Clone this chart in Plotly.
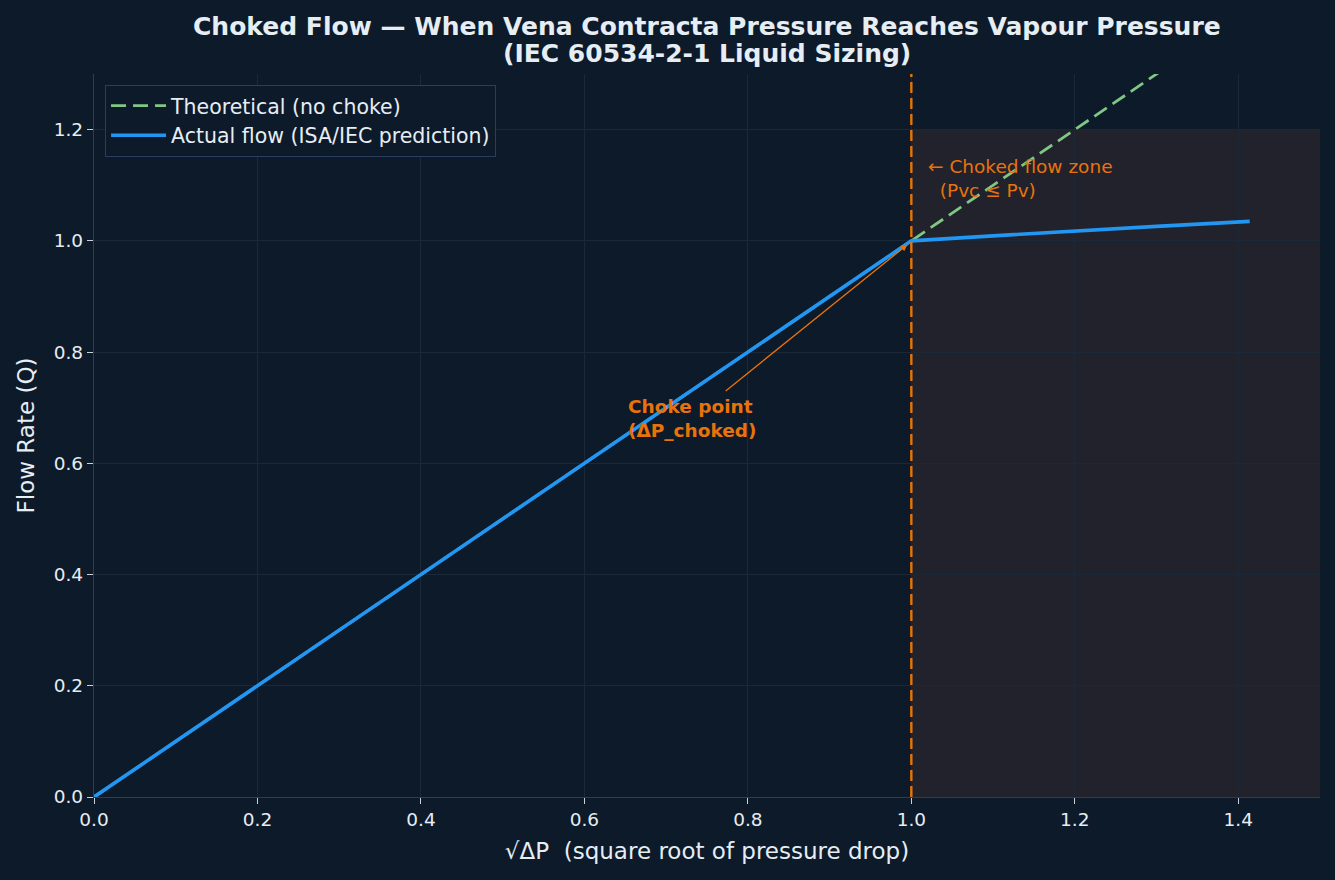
import plotly.graph_objects as go

# sqrt(dP) samples and flows
sqrt_dp = [0.0, 0.25, 0.5, 0.75, 1.0, 1.1, 1.2, 1.3, 1.414]
q_theory = [0.0, 0.25, 0.5, 0.75, 1.0, 1.1, 1.2, 1.3, 1.414]
q_actual = [0.0, 0.25, 0.5, 0.75, 1.0, 1.009, 1.018, 1.026, 1.035]

CHOKE_X = 1.0
ZONE_X = [1.0, 1.5]
ZONE_TOP = 1.2

TITLE_1 = "Choked Flow — When Vena Contracta Pressure Reaches Vapour Pressure"
TITLE_2 = "(IEC 60534-2-1 Liquid Sizing)"

BG = "#0d1a2a"
ORANGE = "#e8730c"
TXT = "#e6edf3"
FONT = "DejaVu Sans"

fig = go.Figure()

fig.add_shape(type="rect", xref="x", yref="y", x0=ZONE_X[0], x1=ZONE_X[1], y0=0, y1=ZONE_TOP,
              fillcolor="#21222b", line_width=0, layer="below")

fig.add_trace(go.Scatter(x=sqrt_dp, y=q_theory, mode="lines", name="Theoretical (no choke)",
                         line=dict(color="#81c784", width=2.8, dash="15px,7px")))
fig.add_trace(go.Scatter(x=sqrt_dp, y=q_actual, mode="lines", name="Actual flow (ISA/IEC prediction)",
                         line=dict(color="#2196f3", width=3.6)))

fig.add_shape(type="line", xref="x", yref="paper", x0=CHOKE_X, x1=CHOKE_X, y0=0, y1=1,
              line=dict(color=ORANGE, width=2.4, dash="11px,5px"))

# arrow + labels
fig.add_annotation(x=0.995, y=0.993, ax=0.771, ay=0.728, axref="x", ayref="y", text="",
                   showarrow=True, arrowhead=2, arrowsize=1, arrowwidth=1.3, arrowcolor=ORANGE)
fig.add_annotation(x=0.651, y=0.68, text="<b>Choke point<br>(ΔP_choked)</b>", showarrow=False,
                   xanchor="left", yanchor="middle", align="left",
                   font=dict(family=FONT, size=18.5, color=ORANGE))
fig.add_annotation(x=1.018, y=1.112, text="← Choked flow zone<br>\u00a0\u00a0(Pvc ≤ Pv)", showarrow=False,
                   xanchor="left", yanchor="middle", align="left",
                   font=dict(family=FONT, size=18.5, color=ORANGE))

# two-line title
for txt, yy in [(TITLE_1, 1.066), (TITLE_2, 1.029)]:
    fig.add_annotation(xref="paper", yref="paper", x=0.5, y=yy, text="<b>" + txt + "</b>",
                       showarrow=False, xanchor="center", yanchor="middle",
                       font=dict(family=FONT, size=25, color=TXT))

axis_common = dict(showgrid=True, gridcolor="#1a2838", gridwidth=1, zeroline=False,
                   showline=True, linecolor="#2a3d5c", linewidth=1.3,
                   ticks="outside", ticklen=6, tickwidth=1.3, tickcolor="#c8d0da",
                   tickfont=dict(family=FONT, size=18.5, color=TXT), tickformat=".1f")

fig.update_layout(
    width=1335, height=880,
    paper_bgcolor=BG, plot_bgcolor=BG,
    margin=dict(l=94, r=15, t=74, b=83),
    xaxis=dict(axis_common, range=[0, 1.5], dtick=0.2,
               title=dict(text="√ΔP  (square root of pressure drop)", font=dict(family=FONT, size=23, color=TXT), standoff=13)),
    yaxis=dict(axis_common, range=[0, 1.3], dtick=0.2,
               title=dict(text="Flow Rate (Q)", font=dict(family=FONT, size=23, color=TXT), standoff=12)),
    legend=dict(x=0.009, y=0.985, xanchor="left", yanchor="top", bgcolor=BG,
                bordercolor="#2a3d5c", borderwidth=1, itemwidth=55,
                font=dict(family=FONT, size=20.5, color=TXT)),
    font=dict(family=FONT, color=TXT),
)

fig.write_html("out.html", config={"displayModeBar": False},
               post_script="document.body.style.margin='0';")
